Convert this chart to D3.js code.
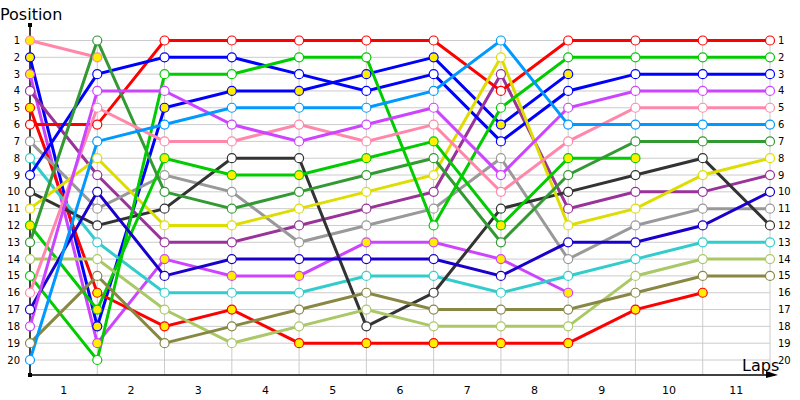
<!DOCTYPE html>
<html>
<head>
<meta charset="utf-8">
<script src="https://cdn.jsdelivr.net/npm/d3@7"></script>
<style>
  body{margin:0;background:#fff;}
  text{font-family:"DejaVu Sans",Verdana,sans-serif;}
</style>
</head>
<body>
<div class="chart"></div>
<script>
// 圈数标签与名次
var laps = ["1","2","3","4","5","6","7","8","9","10","11"];
var positions = d3.range(1, 21);

// 每位车手：颜色、是否退赛（黄色点）、每圈名次（第0列为发车位）
var names   = ["A","B","C","D","E","F","G","H","I","J","K","L","M","N","O","P","Q","R","S","T"];
var colors  = ["#ff88aa","#0000ff","#cc44ff","#993399","#ff0000","#ff0000","#999999","#33cccc","#0000ff","#333333",
               "#dddd00","#00cc00","#339933","#aac866","#00cc00","#ff88aa","#1a00cc","#cc44ff","#888844","#0099ff"];
var retired = [true,true,true,false,true,false,false,false,false,false,
               false,true,false,false,false,false,false,false,false,false];
var series = [
  [1,2],
  [2,18,5,4,4,3,2,6,3],
  [3,19,14,15,15,13,13,14,16],
  [4,9,13,13,12,11,10,3,11,10,10,9],
  [5,16,18,17,19,19,19,19,19,17,16],
  [6,6,1,1,1,1,1,4,1,1,1,1],
  [7,11,9,10,13,12,11,8,14,12,11,11],
  [8,13,16,16,16,15,15,16,15,14,13,13],
  [9,3,2,2,3,4,3,7,4,3,3,3],
  [10,12,11,8,8,18,16,11,10,9,8,12],
  [11,8,12,12,11,10,9,2,12,11,9,8],
  [12,17,8,9,9,8,7,12,8,8],
  [13,1,10,11,10,9,8,13,9,7,7,7],
  [14,14,17,19,18,17,18,18,18,15,14,14],
  [15,20,3,3,2,2,12,5,2,2,2,2],
  [16,5,7,7,6,7,6,10,7,5,5,5],
  [17,10,15,14,14,14,14,15,13,13,12,10],
  [18,4,4,6,7,6,5,9,5,4,4,4],
  [19,15,19,18,17,16,17,17,17,16,15,15],
  [20,7,6,5,5,5,4,1,6,6,6,6]
];

var svg = d3.select(".chart").append("svg").attr("width",800).attr("height",400);

var x = d3.scaleLinear().domain([0, laps.length]).range([30, 770]);
var y = d3.scaleLinear().domain([1, 20]).range([40.5, 360]);

// 网格
svg.append("g").selectAll("line").data(positions).join("line")
  .attr("x1", x(0)).attr("x2", x(laps.length))
  .attr("y1", d => y(d)).attr("y2", d => y(d))
  .attr("stroke", "#cccccc");
svg.append("g").selectAll("line").data(d3.range(1, laps.length + 1)).join("line")
  .attr("x1", d => x(d)).attr("x2", d => x(d))
  .attr("y1", y(1)).attr("y2", 375)
  .attr("stroke", "#cccccc");

// 坐标轴
svg.append("line").attr("x1",30).attr("x2",30).attr("y1",25).attr("y2",375).attr("stroke","black").attr("stroke-width",1.5);
svg.append("rect").attr("x",28).attr("y",23).attr("width",4).attr("height",4).attr("fill","black");
svg.append("line").attr("x1",30).attr("x2",775).attr("y1",375).attr("y2",375).attr("stroke","black").attr("stroke-width",1.5);
svg.append("path").attr("d","M766,371 L778,375 L766,378 Z").attr("fill","black");
svg.append("rect").attr("x",28).attr("y",373).attr("width",4).attr("height",4).attr("fill","black");

svg.append("text").attr("x",0).attr("y",20).attr("font-size","16px").text("Position");
svg.append("text").attr("x",742).attr("y",371).attr("font-size","16px").text("Laps");

svg.append("g").selectAll("text").data(positions).join("text")
  .attr("x", 20).attr("y", d => y(d) + 3.5).attr("text-anchor","end")
  .attr("font-size","10px").text(d => d);
svg.append("g").selectAll("text").data(positions).join("text")
  .attr("x", 778).attr("y", d => y(d) + 3.5)
  .attr("font-size","10px").text(d => d);
svg.append("g").selectAll("text").data(laps).join("text")
  .attr("x", (d,i) => x(i + 0.5)).attr("y", 394).attr("text-anchor","middle")
  .attr("font-size","11px").text(d => d);

// 线
var line = d3.line().x((d,i) => x(i)).y(d => y(d));
svg.append("g").selectAll("path").data(series).join("path")
  .attr("d", d => line(d))
  .attr("fill","none")
  .attr("stroke", (d,i) => colors[i])
  .attr("stroke-width", 3);

// 点
series.forEach(function(s, k){
  svg.append("g").selectAll("circle").data(s).join("circle")
    .attr("cx", (d,i) => x(i)).attr("cy", d => y(d)).attr("r", 4.5)
    .attr("fill", retired[k] ? "#ffee00" : "#ffffff")
    .attr("stroke", colors[k]).attr("stroke-width", 1.2);
});
</script>
</body>
</html>
